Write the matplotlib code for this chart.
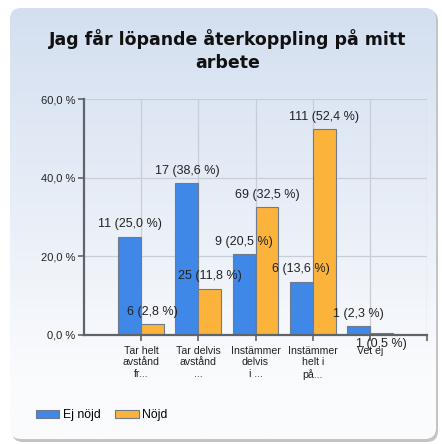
import numpy as np
import matplotlib
matplotlib.use("Agg")
import matplotlib.pyplot as plt
from matplotlib.patches import FancyBboxPatch, Patch

categories = ["Tar helt\navstånd\nfr...", "Tar delvis\navstånd\n...", "Instämmer\ndelvis\ni ...",
              "Instämmer\nhelt i\npå...", "Vet ej"]
series_names = ["Ej nöjd", "Nöjd"]
ej_counts = [11, 17, 9, 6, 1]
ej_pct = [25.0, 38.6, 20.5, 13.6, 2.3]
nojd_counts = [6, 25, 69, 111, 1]
nojd_pct = [2.8, 11.8, 32.5, 52.4, 0.5]
yticks = [0, 20, 40, 60]
ytick_labels = ["0,0 %", "20,0 %", "40,0 %", "60,0 %"]
title = "Jag får löpande återkoppling på mitt\narbete"

plt.rcParams['font.family'] = ['Liberation Sans', 'DejaVu Sans']

W, H = 442, 444
fig = plt.figure(figsize=(W / 100, H / 100), dpi=100)
fig.patch.set_facecolor('white')

# background panel
bg = fig.add_axes([0, 0, 1, 1], zorder=0)
bg.axis('off')
shadow = FancyBboxPatch((12, 10), 426, 432, boxstyle="round,pad=0,rounding_size=11",
                        facecolor='#c4c4c4', edgecolor='none', zorder=1)
bg.add_patch(shadow)
panel = FancyBboxPatch((10, 8), 426, 431, boxstyle="round,pad=0,rounding_size=11",
                       facecolor='none', edgecolor='none', zorder=1)
bg.add_patch(panel)
top = np.array([211, 223, 240]) / 255
bot = np.array([250, 251, 253]) / 255
t = np.linspace(0, 1, 256)
t = np.clip(t / 0.85, 0, 1)[:, None]
grad = (top[None, :] * (1 - t) + bot[None, :] * t)[:, None, :]
im = bg.imshow(grad, extent=(10, 436, 439, 8), aspect='auto', interpolation='bilinear', zorder=2)
im.set_clip_path(panel)
bg.set_xlim(0, W)
bg.set_ylim(H, 0)

fig.text(228 / W, 1 - 29 / H, title, ha='center', va='top', fontsize=12.5,
         fontweight='bold', family=['DejaVu Sans'], color='#111111', linespacing=1.38)

ax = fig.add_axes([84 / W, 1 - 335 / H, (427 - 84) / W, (335 - 99) / H], zorder=1)
ax.set_facecolor('none')
x = np.arange(1, len(categories) + 1)
w = 0.4
blue = '#3f88e8'
orange = '#fbb33c'
edge = '#6f7a8a'
b1 = ax.bar(x - w / 2, ej_pct, w, color=blue, edgecolor=edge, linewidth=0.8, zorder=3)
b2 = ax.bar(x + w / 2, nojd_pct, w, color=orange, edgecolor=edge, linewidth=0.8, zorder=3)

def fmt(n, p):
    return f"{n} ({p:.1f} %)".replace('.', ',')

for xs, cs, ps in [(x - w / 2, ej_counts, ej_pct), (x + w / 2, nojd_counts, nojd_pct)]:
    for xi, c, p in zip(xs, cs, ps):
        if p < 1:
            ax.annotate(fmt(c, p), (xi, 0), xytext=(0, -2), textcoords='offset points',
                        ha='center', va='top', fontsize=9, color='#222222', zorder=5)
        else:
            ax.annotate(fmt(c, p), (xi, p), xytext=(0, 4.5), textcoords='offset points',
                        ha='center', va='bottom', fontsize=9, color='#222222', zorder=5)

ax.set_xlim(0, 6)
ax.set_ylim(0, 60)
ax.set_xticks(list(x) + [6])
ax.set_xticklabels(categories + [''], fontsize=7.6, linespacing=1.15, color='#222222')
ax.set_yticks(yticks)
ax.set_yticklabels(ytick_labels, fontsize=8, color='#222222')
ax.grid(True, color='#c9cdd5', linewidth=0.9, zorder=0)
ax.set_axisbelow(True)
for s in ['top', 'right']:
    ax.spines[s].set_visible(False)
for s in ['left', 'bottom']:
    ax.spines[s].set_color('#5f646b')
    ax.spines[s].set_linewidth(1.6)
    ax.spines[s].set_zorder(4)
ax.tick_params(axis='both', length=4, width=1.2, color='#5f646b', pad=2)
ax.tick_params(axis='x', pad=4)

handles = [Patch(facecolor=blue, edgecolor=edge, linewidth=0.8),
           Patch(facecolor=orange, edgecolor=edge, linewidth=0.8)]
fig.legend(handles, series_names, loc='center left', bbox_to_anchor=(36 / W, 1 - 415 / H),
           ncol=2, frameon=False, fontsize=8.8, handlelength=1.9, handleheight=0.65,
           handletextpad=0.3, columnspacing=1.2, borderaxespad=0, borderpad=0)

fig.savefig('out.png', dpi=100)
